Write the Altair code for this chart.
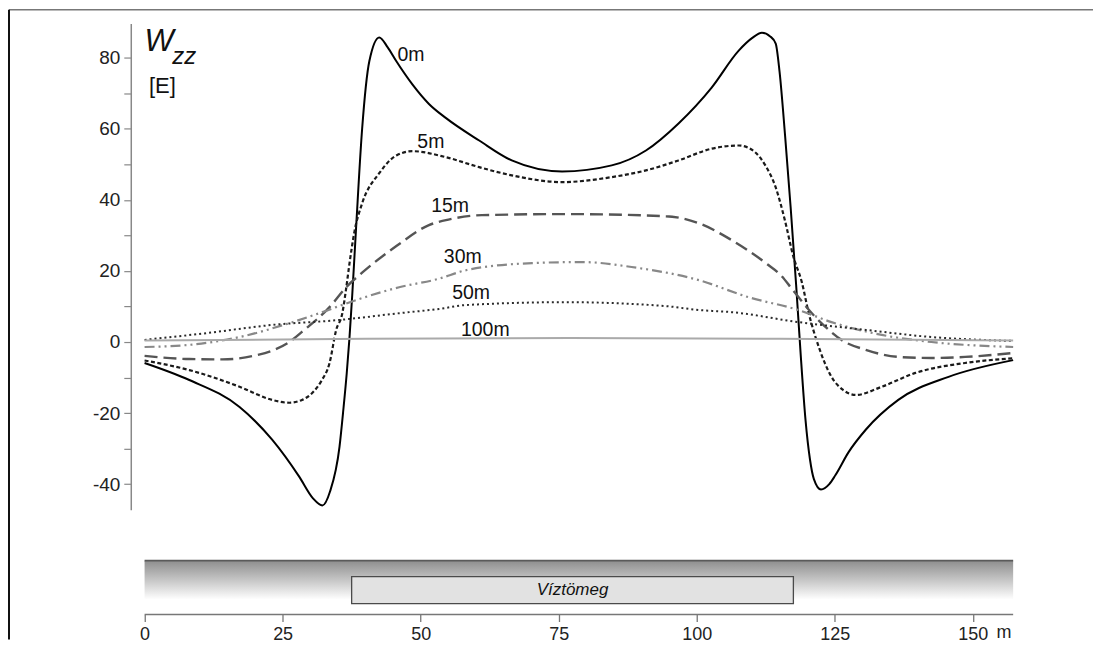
import altair as alt
import pandas as pd

FONT = "Liberation Sans"

# ---- curve data (x in m, Wzz in Eötvös) ----
x_0m = [0, 8.1, 17.2, 23.1, 28, 30.5, 32.2, 33.6, 35.3, 36, 36.6, 37.1, 37.6, 38.3, 39.4, 40.7, 42.5, 44, 45.6,
        48.5, 51.5, 54.6, 60.6, 66.5, 75.6, 84.6, 90.8, 96.7, 102.7, 107.6, 110, 111.8, 113.3, 114.3, 115, 116, 117,
        118, 118.8, 119.7, 120.5, 121.2, 122.5, 124, 125.1, 127.5, 130.6, 136.5, 145.6, 157.3]
y_0m = [-5.9, -10.7, -18.3, -27.5, -37.9, -44, -46, -42, -29.5, -19, -9, 1, 13, 32, 60, 79, 85.7, 83, 79,
        72.5, 67, 63, 56.7, 51.1, 48, 49.7, 53.9, 61.5, 71.6, 82, 85.5, 87, 86, 84, 76, 58, 38,
        16, -3, -22, -33, -38.5, -41.5, -40, -37.5, -31, -24.7, -16.3, -9.8, -5.1]

x_5m = [0, 8.1, 17.2, 23.1, 26.2, 28.5, 30.4, 32, 33.5, 34.7, 35.8, 36.5, 37.1, 38, 39.4, 42.5, 45.6, 48.5, 54.6,
        60.6, 66.5, 75.6, 84.6, 90.8, 96.7, 102.7, 107.6, 110.5, 112.5, 114.3, 116, 117.5, 119, 120.3, 122.1, 124.4,
        126.5, 128.8, 133.5, 139.6, 148.6, 157.3]
y_5m = [-5.2, -7.9, -12.6, -16.3, -17.1, -16.3, -14.3, -11, -5.9, 3.4, 8, 15, 22, 31, 39, 47.5, 52.5, 53.7, 52,
        49.2, 46.9, 45, 46.4, 48.3, 51.1, 54.4, 55.3, 53.5, 49.5, 43.5, 34, 24, 17, 8, -1.4, -9.8,
        -13.5, -14.9, -12.6, -8.7, -5.9, -4.6]

x_15m = [0, 8.1, 14.1, 20.3, 23.5, 26.2, 29, 33.5, 36.5, 39.4, 45.6, 51.5, 55.2, 61.1, 76.3, 94.4, 100.4, 106.3,
         112.5, 115.4, 117.2, 121.5, 124, 126.2, 130.6, 136.5, 142.5, 148.6, 157.3]
y_15m = [-3.9, -4.8, -4.9, -3.7, -2.2, 0, 3.5, 9.8, 15.4, 19.5, 27, 32.9, 34.5, 35.7, 36, 35.4, 33.4, 28.7,
         22.2, 18.5, 15, 7, 3.3, 0.6, -2.2, -4.2, -4.5, -4.2, -3.1]

x_30m = [0, 8.1, 17.2, 26.2, 32.2, 38.3, 46.1, 53.3, 58.2, 70.2, 79.2, 88.2, 100.4, 109.4, 118.4, 124.4, 133.5,
         142.5, 157.3]
y_30m = [-1.4, -0.8, 1.4, 5.3, 8.4, 11.8, 15.4, 17.8, 20.2, 22.2, 22.5, 21.1, 17.4, 12.6, 9.0, 5.6, 2.0,
         0, -1.4]

x_50m = [0, 11.2, 23.1, 35.3, 46.1, 53.3, 58.2, 76.3, 94.4, 100.4, 106.3, 118.4, 130.6, 142.5, 157.3]
y_50m = [0.6, 2.5, 4.8, 6.2, 8.1, 9.3, 10.4, 11.2, 10.1, 9.0, 8.4, 5.6, 3.4, 1.4, 0.3]

x_100m = [0, 40, 77, 115, 157.3]
y_100m = [0.4, 0.9, 1.1, 0.9, 0.4]

# curve labels
label_text = ["0m", "5m", "15m", "30m", "50m", "100m"]
label_x = [45.8, 49.4, 51.9, 54.2, 55.7, 57.3]
label_y = [80.9, 56.2, 38.2, 23.9, 13.9, 3.5]

# axes
y_ticks = [-40, -30, -20, -10, 0, 10, 20, 30, 40, 50, 60, 70, 80]
x_ticks = [0, 25, 50, 75, 100, 125, 150]
X_DOMAIN = [-2.5, 157.3]
Y_DOMAIN = [-47.2, 89.6]

# water body sketch
body_start, body_end = 37.5, 117.5
body_label = "Víztömeg"

W, H_TOP, H_BOT = 884, 487, 60

xs = alt.Scale(domain=X_DOMAIN, nice=False, zero=False)
ys = alt.Scale(domain=Y_DOMAIN, nice=False, zero=False)

series = [
    (x_0m, y_0m, dict(color="#000000", strokeWidth=2)),
    (x_5m, y_5m, dict(color="#1a1a1a", strokeWidth=2.2, strokeDash=[4, 2.5])),
    (x_15m, y_15m, dict(color="#555555", strokeWidth=2.4, strokeDash=[13, 6])),
    (x_30m, y_30m, dict(color="#888888", strokeWidth=2.2, strokeDash=[10, 4, 2, 4, 2, 4])),
    (x_50m, y_50m, dict(color="#2a2a2a", strokeWidth=2, strokeDash=[2, 3])),
    (x_100m, y_100m, dict(color="#aaaaaa", strokeWidth=2)),
]

layers = []
for i, (xv, yv, style) in enumerate(series):
    df = pd.DataFrame({"x": xv, "y": yv})
    ln = alt.Chart(df).mark_line(interpolate="monotone", clip=False, **style).encode(
        x=alt.X("x:Q", scale=xs, axis=None),
        y=alt.Y("y:Q", scale=ys,
                axis=alt.Axis(values=y_ticks, title=None, grid=False,
                              labelExpr="datum.value % 20 == 0 ? replace(datum.label, '\u2212', '-') : ''",
                              domainColor="#888888", domainWidth=1.5, tickColor="#888888", tickWidth=1.2,
                              tickSize=7, labelFontSize=19, labelColor="#222222", labelFont=FONT,
                              labelPadding=4)),
    )
    layers.append(ln)

labels_df = pd.DataFrame({"t": label_text, "x": label_x, "y": label_y})
labels = alt.Chart(labels_df).mark_text(align="left", baseline="middle", fontSize=19.5, font=FONT,
                                        color="#111111").encode(
    x=alt.X("x:Q", scale=xs), y=alt.Y("y:Q", scale=ys), text="t:N")

w_lbl = alt.Chart().mark_text(align="left", baseline="alphabetic", fontSize=31, fontStyle="italic",
                              font=FONT, color="#111111").encode(
    x=alt.datum(0.0, scale=xs), y=alt.datum(82.0, scale=ys), text=alt.value("W"))
zz_lbl = alt.Chart().mark_text(align="left", baseline="alphabetic", fontSize=24, fontStyle="italic",
                               font=FONT, color="#111111").encode(
    x=alt.datum(5.0, scale=xs), y=alt.datum(78.2, scale=ys), text=alt.value("zz"))
e_lbl = alt.Chart().mark_text(align="left", baseline="alphabetic", fontSize=22, font=FONT,
                              color="#111111").encode(
    x=alt.datum(0.8, scale=xs), y=alt.datum(70.0, scale=ys), text=alt.value("[E]"))

# frame (top and left border of the figure)
frame_top = alt.Chart().mark_rule(color="#777777", strokeWidth=1.5).encode(
    x=alt.value(-122), x2=alt.value(964), y=alt.value(-14))
frame_left = alt.Chart().mark_rule(color="#111111", strokeWidth=2).encode(
    x=alt.value(-122), y=alt.value(-14), y2=alt.value(617))

top = alt.layer(*layers, labels, w_lbl, zz_lbl, e_lbl, frame_top, frame_left).properties(
    width=W, height=H_TOP)

# ---- bottom sketch panel ----
bys = alt.Scale(domain=[0, H_BOT], reverse=True, nice=False, zero=False)
grad = alt.Gradient(gradient="linear", x1=0, y1=0, x2=0, y2=1,
                    stops=[alt.GradientStop(color="#8e8e8e", offset=0),
                           alt.GradientStop(color="#c6c6c6", offset=0.5),
                           alt.GradientStop(color="#ffffff", offset=1)])

tick_df = pd.DataFrame({"x": x_ticks})
xaxis = alt.Chart(tick_df).mark_tick(opacity=0).encode(
    x=alt.X("x:Q", scale=xs,
            axis=alt.Axis(values=x_ticks, title=None, grid=False, domain=False, orient="bottom",
                          tickColor="#777777", tickWidth=1.3, tickSize=7, labelFontSize=18, labelFont=FONT,
                          labelColor="#222222", labelPadding=4)),
    y=alt.Y("x:Q", scale=bys, axis=None))

band = alt.Chart().mark_rect(fill=grad).encode(
    x=alt.datum(0), x2=alt.datum(X_DOMAIN[1]),
    y=alt.datum(6), y2=alt.datum(45))
band_edge = alt.Chart().mark_rule(color="#5a5a5a", strokeWidth=2).encode(
    x=alt.datum(0), x2=alt.datum(X_DOMAIN[1]), y=alt.datum(6))
body = alt.Chart().mark_rect(fill="#e2e2e2", stroke="#4a4a4a", strokeWidth=1.3).encode(
    x=alt.datum(body_start), x2=alt.datum(body_end),
    y=alt.datum(22), y2=alt.datum(49))
body_txt = alt.Chart().mark_text(fontSize=17, fontStyle="italic", font=FONT, color="#111111",
                                 baseline="middle").encode(
    x=alt.datum((body_start + body_end) / 2), y=alt.datum(35.5),
    text=alt.value(body_label))
axis_line = alt.Chart().mark_rule(color="#777777", strokeWidth=1.5).encode(
    x=alt.datum(0), x2=alt.datum(X_DOMAIN[1]), y=alt.datum(H_BOT))
unit_txt = alt.Chart().mark_text(fontSize=18, font=FONT, color="#222222", baseline="middle",
                                 align="left").encode(
    x=alt.datum(154.3), y=alt.datum(H_BOT + 18.5), text=alt.value("m"))

bottom = alt.layer(xaxis, band, band_edge, body, body_txt, axis_line, unit_txt).properties(
    width=W, height=H_BOT)

chart = alt.vconcat(top, bottom, spacing=45, bounds="flush").properties(
    padding=0, background="white"
).configure_view(stroke=None)

chart.save("out.html", embed_options={"renderer": "svg", "actions": False})
